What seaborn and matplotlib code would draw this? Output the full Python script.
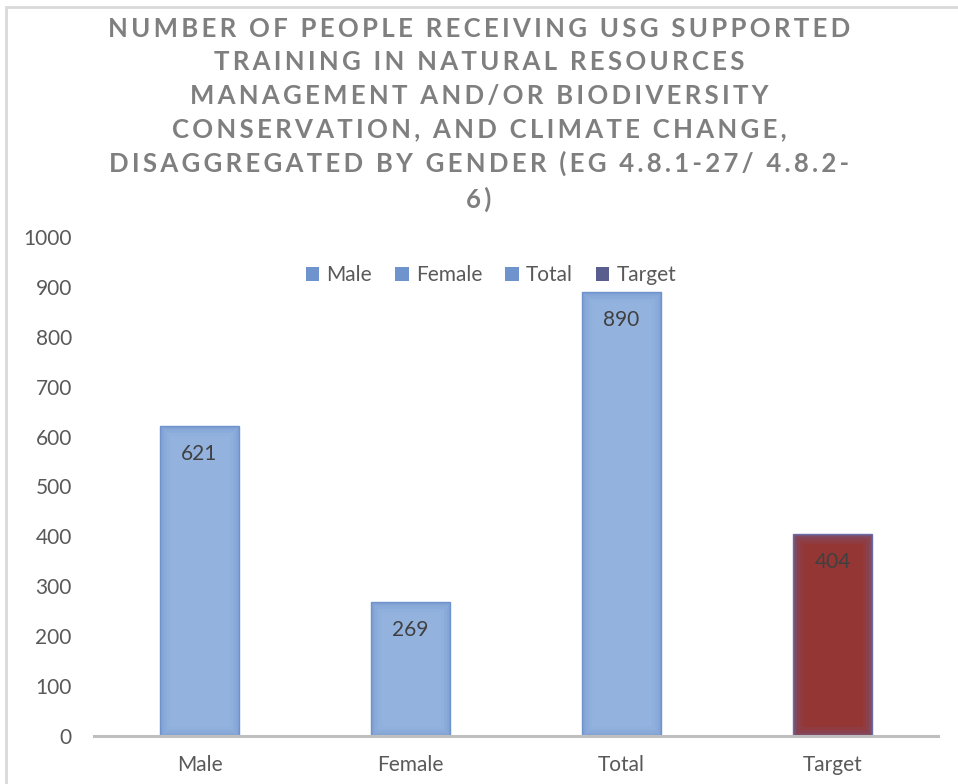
import matplotlib
matplotlib.use("Agg")
import matplotlib.pyplot as plt
from matplotlib.patches import Patch, Rectangle
import seaborn as sns
import pandas as pd

categories = ["Male", "Female", "Total", "Target"]
values = [621, 269, 890, 404]
yticks = [0, 100, 200, 300, 400, 500, 600, 700, 800, 900, 1000]
title_lines = [
    "NUMBER OF PEOPLE RECEIVING USG SUPPORTED",
    "TRAINING IN NATURAL RESOURCES",
    "MANAGEMENT AND/OR BIODIVERSITY",
    "CONSERVATION, AND CLIMATE CHANGE,",
    "DISAGGREGATED BY GENDER (EG 4.8.1-27/ 4.8.2-",
    "6)",
]

bar_face = ["#93B3DE", "#93B3DE", "#93B3DE", "#943634"]
bar_glow = ["#6F93CC", "#6F93CC", "#6F93CC", "#6A6CA8"]
legend_face = ["#6F93CC", "#6F93CC", "#6F93CC", "#5A5E8E"]

sns.set_theme(style="white")
plt.rcParams["font.family"] = ["Lato", "DejaVu Sans"]

df = pd.DataFrame({"category": categories, "value": values})

fig = plt.figure(figsize=(9.58, 7.84), dpi=100)
ax = fig.add_axes([94 / 958, 1 - 736 / 784, (938 - 94) / 958, (736 - 237) / 784])

sns.barplot(data=df, x="category", y="value", hue="category",
            palette=bar_face, width=0.375, legend=False, ax=ax,
            saturation=1)

# soft darker rim inside each bar
bars = list(ax.patches)
for patch, gc in zip(bars, bar_glow):
    patch.set_edgecolor(gc)
    patch.set_linewidth(1.0)
    x, y = patch.get_xy()
    for lw, a in [(14, 0.10), (9, 0.14), (5, 0.18), (2.5, 0.25)]:
        rim = Rectangle((x, y), patch.get_width(), patch.get_height(),
                        fill=False, edgecolor=gc, linewidth=lw, alpha=a, zorder=patch.get_zorder() + 0.1)
        ax.add_patch(rim)
        rim.set_clip_path(patch)

ax.set_ylim(0, 1000)
ax.set_xlim(-0.5, 3.5)
ax.set_yticks(yticks)
ax.set_xlabel("")
ax.set_ylabel("")
ax.tick_params(axis="y", labelsize=15, labelcolor="#595959", length=0, pad=16)
ax.tick_params(axis="x", labelsize=15, labelcolor="#595959", length=0, pad=14)
for side in ["left", "right", "top"]:
    ax.spines[side].set_visible(False)
ax.spines["bottom"].set_color("#BFBFBF")
ax.spines["bottom"].set_linewidth(2.2)
ax.spines["bottom"].set_zorder(5)
ax.grid(False)

# value labels just inside the top of each bar
for i, v in enumerate(values):
    ax.annotate(f"{v}", xy=(i, v), xytext=(0, -28), textcoords="offset pixels",
                ha="center", va="center", fontsize=15, color="#404040", zorder=6)

# legend
handles = [Patch(facecolor=c, edgecolor="none") for c in legend_face]
fig.legend(handles, categories, loc="center", bbox_to_anchor=(491 / 958, 1 - 275 / 784),
           ncol=4, frameon=False, fontsize=15, handlelength=0.65, handleheight=0.65,
           handletextpad=0.35, columnspacing=1.1, labelcolor="#595959")

# spaced-out title
spaced = ["\u2009".join(line) for line in title_lines]
fig.text(479 / 958, 1 - 17 / 784, "\n".join(spaced), ha="center", va="top",
         fontsize=18.5, fontweight="bold", color="#7F7F7F", linespacing=1.47)

# chart frame
fig.patches.append(Rectangle((6 / 958, -0.05), 1.1, 1 - 7 / 784 + 0.05,
                             transform=fig.transFigure, fill=False,
                             edgecolor="#D9D9D9", linewidth=2))

fig.savefig("out.png", dpi=100)
